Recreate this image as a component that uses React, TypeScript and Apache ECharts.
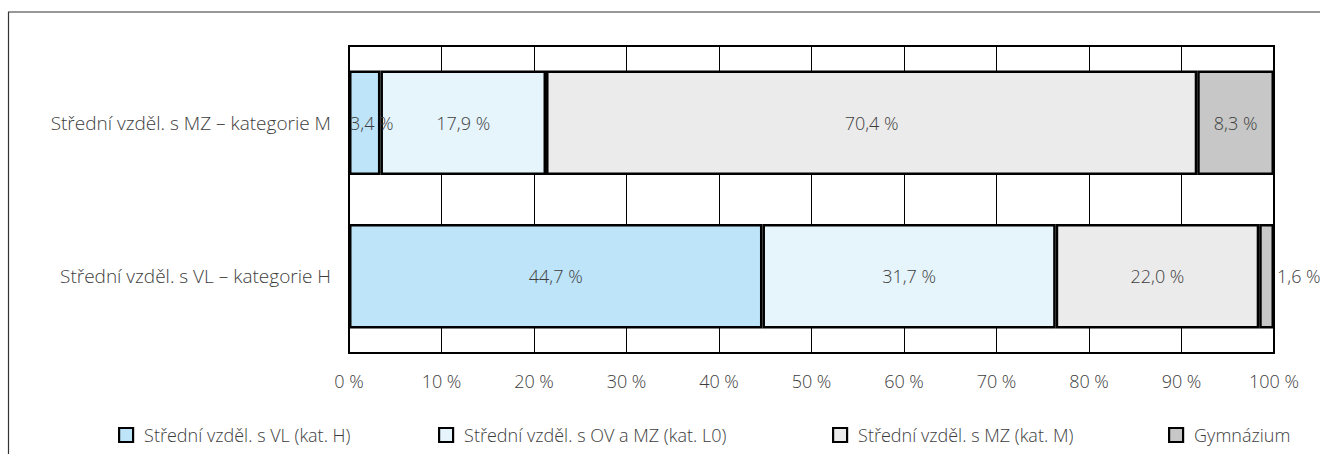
import React, { useEffect, useRef } from "react";
import * as echarts from "echarts";

const categories = ["Střední vzděl. s VL – kategorie H", "Střední vzděl. s MZ – kategorie M"];
const seriesNames = [
  "Střední vzděl. s VL (kat. H)",
  "Střední vzděl. s OV a MZ (kat. L0)",
  "Střední vzděl. s MZ (kat. M)",
  "Gymnázium",
];
const valuesVL = [44.7, 3.4];
const valuesOV = [31.7, 17.9];
const valuesMZ = [22.0, 70.4];
const valuesGym = [1.6, 8.3];
const colors = ["#bde4f8", "#e6f4fc", "#ebebeb", "#c6c7c6"];
const xTicks = [0, 10, 20, 30, 40, 50, 60, 70, 80, 90, 100];

const FONT = "'Open Sans', 'Noto Sans', sans-serif";
const TEXT = "#3d3d3d";

function fmt(v: number) {
  return v.toFixed(1).replace(".", ",") + " %";
}

export default function App() {
  const ref = useRef<HTMLDivElement>(null);
  useEffect(() => {
    if (!ref.current) return;
    const chart = echarts.init(ref.current, null, { renderer: "svg" });
    const all = [valuesVL, valuesOV, valuesMZ, valuesGym];
    const series = all.map((vals, si) => ({
      name: seriesNames[si],
      type: "bar",
      stack: "total",
      barWidth: "68%",
      itemStyle: { color: colors[si], borderColor: "#000", borderWidth: 2.5 },
      label: {
        show: true,
        position: "inside",
        formatter: (p: any) => fmt(p.value),
        color: TEXT,
        fontSize: 18,
        fontFamily: FONT,
        fontWeight: 300,
      },
      data: vals.map((v) => {
        if (v < 2.5) return { value: v, label: { position: "right", distance: 3 } };
        if (v < 5) return { value: v, label: { position: "insideLeft", distance: 1 } };
        return { value: v };
      }),
    }));
    const legendLefts = [113, 433, 827, 1163];
    chart.setOption({
      animation: false,
      graphic: [
        { type: "line", shape: { x1: 8, y1: 12, x2: 1320, y2: 12 }, style: { stroke: "#333", lineWidth: 1.2 } },
        { type: "line", shape: { x1: 8.5, y1: 12, x2: 8.5, y2: 454 }, style: { stroke: "#333", lineWidth: 1.2 } },
      ],
      grid: {
        left: 349,
        right: 46,
        top: 46,
        bottom: 101,
        show: true,
        borderColor: "#000",
        borderWidth: 2,
        backgroundColor: "#fff",
      },
      legend: seriesNames.map((n, i) => ({
        data: [n],
        left: legendLefts[i],
        top: 421,
        itemWidth: 14,
        itemHeight: 14,
        itemGap: 8,
        icon: "rect",
        itemStyle: { borderColor: "#000", borderWidth: 2.2 },
        textStyle: { color: TEXT, fontSize: 18, fontFamily: FONT, fontWeight: 300, padding: [0, 0, 0, 6] },
        selectedMode: false,
      })),
      xAxis: {
        type: "value",
        min: 0,
        max: 100,
        interval: 10,
        axisLine: { show: false },
        axisTick: { show: false },
        splitLine: { show: true, lineStyle: { color: "#000", width: 1 } },
        axisLabel: {
          margin: 19,
          color: TEXT,
          fontSize: 18,
          fontFamily: FONT,
          fontWeight: 300,
          formatter: (v: number) => (xTicks.includes(v) ? v + " %" : ""),
        },
      },
      yAxis: {
        type: "category",
        data: categories,
        axisLine: { show: true, lineStyle: { color: "#000", width: 2 } },
        axisTick: { show: false },
        axisLabel: {
          margin: 18,
          color: TEXT,
          fontSize: 19,
          fontFamily: FONT,
          fontWeight: 300,
        },
      },
      series,
    });
    return () => chart.dispose();
  }, []);
  return (
    <div
      ref={ref}
      style={{ position: "fixed", left: 0, top: 0, width: 1320, height: 454, background: "#fff" }}
    />
  );
}
